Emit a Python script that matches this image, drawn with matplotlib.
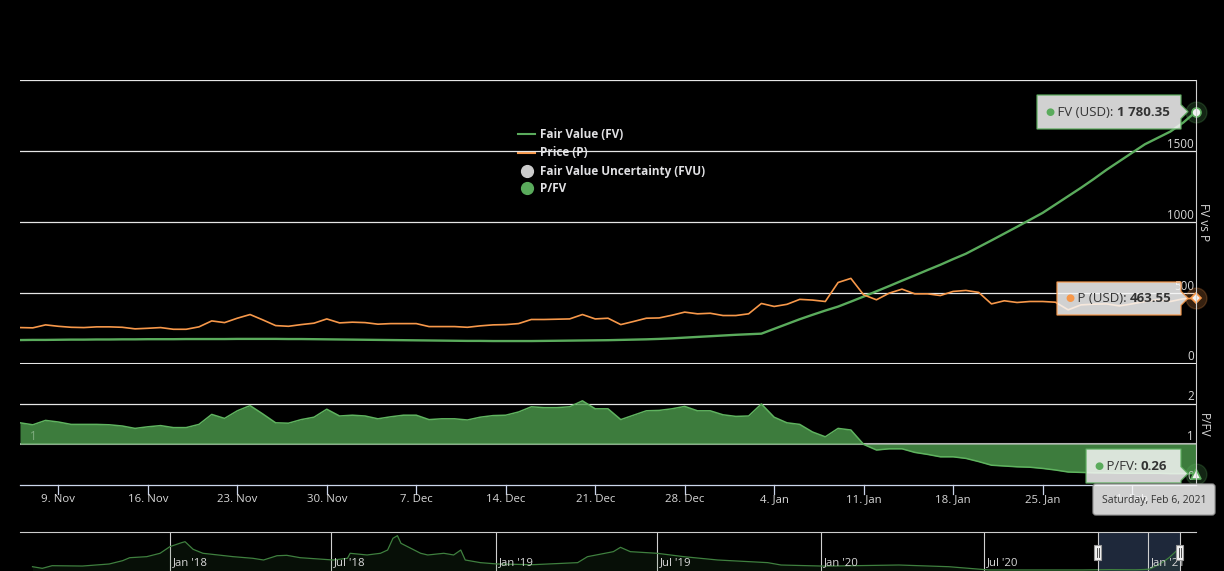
import numpy as np
import pandas as pd
import matplotlib
matplotlib.use('Agg')
import matplotlib.pyplot as plt
import matplotlib.dates as mdates
import matplotlib.transforms as mtrans
from matplotlib.patches import Polygon, FancyBboxPatch, Rectangle
from matplotlib.lines import Line2D

W, H = 1224, 571
plt.rcParams['font.family'] = ['Open Sans', 'DejaVu Sans']

# ---------------- data ----------------
start_date = '2020-11-06'
end_date = '2021-02-06'

fair_value = [169, 170, 170, 171, 172, 172, 173, 173, 174, 174,
              175, 175, 175, 176, 176, 176, 176, 177, 177, 177,
              177, 176, 176, 175, 174, 173, 172, 171, 170, 169,
              168, 167, 166, 165, 164, 163, 163, 162, 162, 162,
              162, 163, 164, 165, 166, 167, 168, 170, 172, 174,
              177, 181, 186, 191, 196, 201, 206, 210,
              214, 248, 282, 316, 347, 377, 405, 440, 476, 513, 550, 588,
              625, 663, 700, 740, 778, 825, 872, 920, 968, 1017,
              1066, 1125, 1184, 1243, 1305, 1370, 1430, 1490, 1550, 1595,
              1640, 1703, 1780.35]

price = [257, 255, 276, 266, 259, 257, 262, 262, 259, 248,
         252, 257, 245, 245, 262, 304, 292, 323, 349, 311,
         271, 266, 278, 288, 318, 290, 295, 292, 281, 285,
         285, 285, 264, 264, 264, 259, 269, 276, 278, 285,
         314, 314, 316, 318, 349, 318, 323, 278, 300, 323,
         325, 344, 366, 354, 358, 342, 342, 354, 427, 406,
         421, 456, 451, 441, 575, 604, 488, 453, 500, 528,
         495, 495, 483, 512, 519, 505, 424, 446, 434, 441,
         441, 436, 382, 417, 422, 424, 410, 424, 441, 453,
         441, 460, 463.55]

p_fv = [1.53, 1.48, 1.59, 1.55, 1.49, 1.49, 1.49, 1.48, 1.45, 1.39,
        1.43, 1.46, 1.41, 1.41, 1.49, 1.74, 1.64, 1.83, 1.96, 1.75,
        1.53, 1.52, 1.61, 1.67, 1.87, 1.70, 1.72, 1.70, 1.63, 1.68,
        1.72, 1.72, 1.61, 1.63, 1.63, 1.60, 1.67, 1.71, 1.72, 1.80,
        1.93, 1.91, 1.91, 1.93, 2.08, 1.88, 1.88, 1.61, 1.72, 1.83,
        1.84, 1.88, 1.94, 1.83, 1.83, 1.73, 1.69, 1.70, 2.00, 1.67,
        1.53, 1.49, 1.30, 1.18, 1.39, 1.35, 0.99, 0.85, 0.88, 0.88,
        0.79, 0.74, 0.68, 0.68, 0.64, 0.56, 0.47, 0.45, 0.43, 0.42,
        0.39, 0.35, 0.30, 0.29, 0.28, 0.28, 0.27, 0.27, 0.27, 0.27,
        0.26, 0.26, 0.26]

x_tick_dates = ['2020-11-09', '2020-11-16', '2020-11-23', '2020-11-30',
                '2020-12-07', '2020-12-14', '2020-12-21', '2020-12-28',
                '2021-01-04', '2021-01-11', '2021-01-18', '2021-01-25',
                '2021-02-01']
x_tick_labels = ['9. Nov', '16. Nov', '23. Nov', '30. Nov', '7. Dec', '14. Dec',
                 '21. Dec', '28. Dec', '4. Jan', '11. Jan', '18. Jan', '25. Jan',
                 '1. Feb']
main_y_ticks = [0, 500, 1000, 1500]
main_grid = [0, 500, 1000, 1500, 2000]
pfv_y_ticks = [0, 1, 2]

nav_hist_dates = ['2017-07-31', '2017-08-11', '2017-08-22', '2017-09-25', '2017-10-25',
                  '2017-11-09', '2017-11-17', '2017-12-06', '2017-12-21', '2018-01-01',
                  '2018-01-14', '2018-01-18', '2018-01-27', '2018-02-07', '2018-03-13',
                  '2018-04-04', '2018-04-16', '2018-05-01', '2018-05-12', '2018-05-27',
                  '2018-07-03', '2018-07-19', '2018-07-22', '2018-08-10', '2018-08-25',
                  '2018-09-02', '2018-09-08', '2018-09-13', '2018-09-17', '2018-09-28',
                  '2018-10-09', '2018-10-17', '2018-11-04', '2018-11-15', '2018-11-23',
                  '2018-11-28', '2018-12-15', '2019-01-03', '2019-02-12', '2019-04-03',
                  '2019-04-14', '2019-05-13', '2019-05-21', '2019-06-01', '2019-07-01',
                  '2019-07-31', '2019-09-07', '2019-11-02', '2019-11-17', '2020-01-01',
                  '2020-01-12', '2020-03-28', '2020-05-23', '2020-07-07', '2020-10-20']
nav_hist_values = [390, 270, 465, 440, 590,
                   835, 1055, 1130, 1380, 1870,
                   2160, 2235, 1675, 1380, 1130,
                   1010, 885, 1200, 1230, 1055,
                   885, 1010, 1380, 1255, 1380,
                   1620, 2485, 2680, 2115, 1745,
                   1380, 1255, 1380, 1255, 1620,
                   885, 690, 590, 540, 690,
                   1130, 1500, 1820, 1500, 1380,
                   1130, 885, 690, 515, 440,
                   440, 515, 390, 150, 150]
nav_label_dates = ['2018-01-01', '2018-07-01', '2019-01-01', '2019-07-01',
                   '2020-01-01', '2020-07-01', '2021-01-01']
nav_labels = ["Jan '18", "Jul '18", "Jan '19", "Jul '19", "Jan '20", "Jul '20", "Jan '21"]
nav_start, nav_end = '2017-07-17', '2021-02-24'

legend_labels = ['Fair Value (FV)', 'Price (P)', 'Fair Value Uncertainty (FVU)', 'P/FV']
tooltip_date = 'Saturday, Feb 6, 2021'

# ---------------- styles ----------------
GREEN = '#5aab5c'
ORANGE = '#f7984a'
FILL = '#4d9c4d'
GRID = '#e6e6e6'
LABEL = '#d8d8d8'
AXIS = '#ccd6eb'

dates = pd.date_range(start_date, end_date, freq='D')

fig = plt.figure(figsize=(W / 100, H / 100), dpi=100)
fig.patch.set_facecolor('black')
PIX = mtrans.Affine2D().scale(1.0 / W, -1.0 / H).translate(0, 1) + fig.transFigure


def px_axes(x0, y0, x1, y1, z):
    ax = fig.add_axes([x0 / W, 1 - y1 / H, (x1 - x0) / W, (y1 - y0) / H], zorder=z)
    ax.set_facecolor('none')
    ax.set_axis_off()
    return ax


# ---------------- main pane ----------------
ax1 = px_axes(20, 80.5, 1196, 364, 2)
ax1.set_xlim(dates[0], dates[-1])
ax1.set_ylim(0, 2000)
for v in main_grid:
    ax1.axhline(v, color=GRID, lw=1.5 if v == 0 else 0.9, zorder=1)
ytrans = mtrans.offset_copy(mtrans.blended_transform_factory(ax1.transAxes, ax1.transData),
                            fig=fig, x=-2, y=0.5, units='dots')
for v in main_y_ticks:
    ax1.text(1, v, str(v), transform=ytrans, ha='right', va='bottom', fontsize=8.4,
             color=LABEL, clip_on=False, zorder=3)
ax1.plot(dates, fair_value, color=GREEN, lw=1.7, zorder=2, solid_joinstyle='round')
ax1.plot(dates, price, color=ORANGE, lw=1.2, zorder=2.1, solid_joinstyle='round')

# legend (drawn beneath gridlines as in the reference)
leg_y = [134, 153, 171, 188]
ax1.add_line(Line2D([518, 535], [leg_y[0]] * 2, transform=PIX, color=GREEN, lw=1.5, zorder=0.5))
ax1.add_line(Line2D([518, 535], [leg_y[1]] * 2, transform=PIX, color=ORANGE, lw=1.5, zorder=0.5))
ax1.add_line(Line2D([527], [leg_y[2]], transform=PIX, marker='o', ms=8.5, color='#cccccc', lw=0, zorder=0.5))
ax1.add_line(Line2D([527], [leg_y[3]], transform=PIX, marker='o', ms=8.5, color=GREEN, lw=0, zorder=0.5))
for lab, yy in zip(legend_labels, leg_y):
    ax1.text(540, yy, lab, transform=PIX, ha='left', va='center', fontsize=8.5,
             fontweight='bold', color='#e0e0e3', zorder=0.5, clip_on=False)

# ---------------- P/FV pane ----------------
ax2 = px_axes(20, 396, 1196, 484, 2)
ax2.set_xlim(dates[0], dates[-1])
ax2.set_ylim(0, 2.2)
ax2.axhline(2, color=GRID, lw=0.9, zorder=0.5)
ax2.axhline(1, color='#b4b4b4', lw=1.5, zorder=1)
ax2.fill_between(dates, p_fv, 1, color=FILL, alpha=0.8, lw=0, zorder=2)
ax2.plot(dates, p_fv, color='#5fb35f', lw=1.1, zorder=3)
ax2.text(33, 437, '1', transform=PIX, ha='center', va='center', fontsize=8.4,
         color='#80ad80', zorder=3.5)
ytrans2 = mtrans.offset_copy(mtrans.blended_transform_factory(ax2.transAxes, ax2.transData),
                             fig=fig, x=-2, y=0.5, units='dots')
for v in pfv_y_ticks:
    ax2.text(1, v, str(v), transform=ytrans2, ha='right', va='bottom', fontsize=8.4,
             color=LABEL, clip_on=False, zorder=3)

# x axis
xt = mtrans.blended_transform_factory(ax2.transData, PIX)
for d, lab in zip(pd.to_datetime(x_tick_dates), x_tick_labels):
    ax2.add_line(Line2D([d, d], [485, 494], transform=xt, color=AXIS, lw=0.9, clip_on=False))
    ax2.text(d, 500, lab, transform=xt, ha='center', va='center', fontsize=8.2,
             color=LABEL, clip_on=False)

# ---------------- navigator ----------------
nav = px_axes(20, 532, 1196, 572, 2)
nav.set_xlim(pd.Timestamp(nav_start), pd.Timestamp(nav_end))
nav.set_ylim(0, 2950)
nav_x = list(pd.to_datetime(nav_hist_dates)) + list(dates)
nav_y = list(nav_hist_values) + list(fair_value)
nav.axvspan(dates[0], dates[-1], color='#6685c2', alpha=0.3, lw=0, zorder=0.5)
for d in pd.to_datetime(nav_label_dates):
    nav.axvline(d, color='#d0d0d0', lw=0.8, zorder=0.6)
nav.fill_between(nav_x, nav_y, 0, color='#3d7a3d', alpha=0.13, lw=0, zorder=1)
nav.plot(nav_x, nav_y, color='#3f803f', lw=0.9, zorder=2)
nt = mtrans.offset_copy(mtrans.blended_transform_factory(nav.transData, PIX), fig=fig, x=3, y=0, units='dots')
for d, lab in zip(pd.to_datetime(nav_label_dates), nav_labels):
    nav.text(d, 563, lab, transform=nt, ha='left', va='center', fontsize=8.2,
             color=LABEL, clip_on=False, zorder=3)

# ---------------- overlay (axes lines, tooltips) ----------------
ov = px_axes(0, 0, W, H, 10)
ov.set_xlim(0, W)
ov.set_ylim(H, 0)
ov.plot([20, 1196], [485, 485], color=AXIS, lw=0.9)
ov.plot([1196, 1196], [80, 485], color='#d0d0d0', lw=0.8)
ov.plot([20, 1196], [532, 532], color='#cccccc', lw=0.8)
ov.text(1203, 222, 'FV vs P', rotation=270, ha='center', va='center', fontsize=8.6, color=LABEL)
ov.text(1203, 425, 'P/FV', rotation=270, ha='center', va='center', fontsize=8.6, color=LABEL)


def to_px(ax, d, v):
    x, y = ax.transData.transform((mdates.date2num(d), v))
    return x, H - y


# navigator handles
for d in (dates[0], dates[-1]):
    hx, _ = to_px(nav, d, 0)
    ov.plot([hx, hx], [532, 571], color='#cccccc', lw=0.8, zorder=1)
    ov.add_patch(Rectangle((hx - 3.5, 545), 7, 15, fc='#f2f2f2', ec='#999999', lw=0.8, zorder=2))
    ov.plot([hx - 1.2, hx - 1.2], [548, 557], color='#333333', lw=0.6, zorder=3)
    ov.plot([hx + 1.2, hx + 1.2], [548, 557], color='#333333', lw=0.6, zorder=3)

# hover markers
for ax, vals, col, mk, ms in ((ax1, fair_value, GREEN, 'o', 6.5), (ax1, price, ORANGE, 'D', 5.5),
                              (ax2, p_fv, GREEN, '^', 6.5)):
    ax.plot([dates[-1]], [vals[-1]], marker='o', ms=15, color=col, alpha=0.22, lw=0,
            clip_on=False, zorder=5)
    ax.plot([dates[-1]], [vals[-1]], marker=mk, ms=ms, mfc='#f2f2f2', mec=col, mew=1.2, lw=0,
            clip_on=False, zorder=6)


def tooltip(anchor, left, top, bottom, color, label, value):
    axp, ayp = anchor
    right = axp - 15
    tipx = axp - 8
    p0 = max(top + 1, ayp - 7)
    p1 = min(bottom - 1, ayp + 7)
    poly = Polygon([(left, top), (right, top), (right, p0), (tipx, ayp), (right, p1),
                    (right, bottom), (left, bottom)], closed=True,
                   fc='#f7f7f7', alpha=0.85, ec=color, lw=1, zorder=20)
    ov.add_patch(poly)
    cy = (top + bottom) / 2
    t0 = ov.text(left + 8, cy + 0.5, '\u25CF', color=color, fontsize=7.5, va='center', ha='left', zorder=21)
    t1 = ov.annotate(' ' + label + ': ', xy=(1, 0.5), xycoords=t0, va='center', ha='left',
                     fontsize=9.5, color='#333333', zorder=21)
    ov.annotate(value, xy=(1, 0), xycoords=t1, va='bottom', ha='left', fontsize=9.5,
                fontweight='bold', color='#333333', zorder=21)


def fmt(v):
    return f'{v:,.2f}'.replace(',', ' ')


tooltip(to_px(ax1, dates[-1], fair_value[-1]), 1037, 95, 129, GREEN, 'FV (USD)', fmt(fair_value[-1]))
tooltip(to_px(ax1, dates[-1], price[-1]), 1057, 282, 315, ORANGE, 'P (USD)', fmt(price[-1]))
tooltip(to_px(ax2, dates[-1], p_fv[-1]), 1086, 449, 483, GREEN, 'P/FV', f'{p_fv[-1]:.2f}')

ov.add_patch(FancyBboxPatch((1093, 484), 122, 31, boxstyle='round,pad=0,rounding_size=3',
                            fc='#f7f7f7', alpha=0.85, ec='#9a9a9a', lw=1, zorder=20))
ov.text(1154, 500, tooltip_date, ha='center', va='center', fontsize=7.5, color='#333333', zorder=21)

fig.savefig('out.png', dpi=100, facecolor='black')
